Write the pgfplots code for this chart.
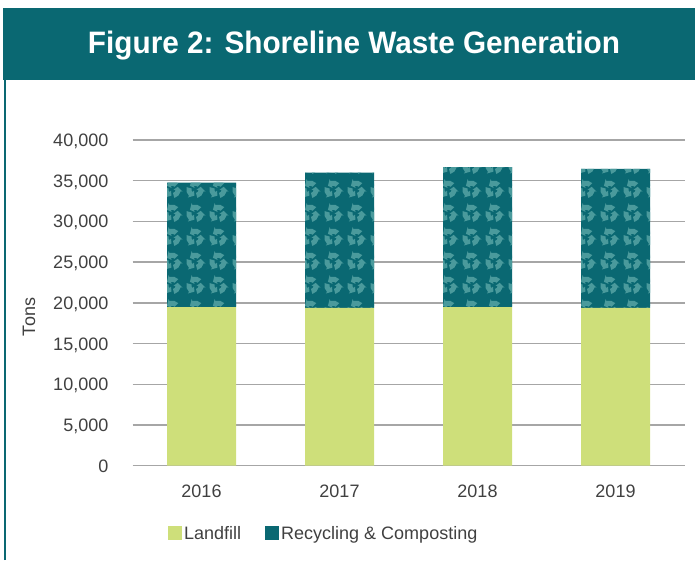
\documentclass[border=0pt]{standalone}
\usepackage{fontspec}
\setmainfont{Liberation Sans}
\usepackage{graphicx}
\usepackage{pgfplots}
\pgfplotsset{compat=1.18}
\usetikzlibrary{patterns}
\definecolor{tealc}{RGB}{10,104,114}
\definecolor{greenc}{RGB}{206,223,122}
\definecolor{patc}{RGB}{74,154,156}
\definecolor{gridc}{RGB}{166,166,166}
\definecolor{textc}{RGB}{64,64,64}
\pgfdeclarepatternformonly{recycle}{\pgfpointorigin}{\pgfqpoint{23pt}{24pt}}{\pgfqpoint{23pt}{24pt}}{%
  \foreach \a in {90,210,330}{%
    \pgfmathsetmacro\sa{\a-45}%
    \pgfmathsetmacro\ea{\a+18}%
    \pgfmathsetmacro\ta{\a+55}%
    \pgfpathmoveto{\pgfpointadd{\pgfqpoint{11.5pt}{12pt}}{\pgfpointpolar{\sa}{9.2pt}}}%
    \pgfpatharc{\sa}{\ea}{9.2pt}%
    \pgfpathlineto{\pgfpointadd{\pgfqpoint{11.5pt}{12pt}}{\pgfpointpolar{\ea}{11.3pt}}}%
    \pgfpathlineto{\pgfpointadd{\pgfqpoint{11.5pt}{12pt}}{\pgfpointpolar{\ta}{6.5pt}}}%
    \pgfpathlineto{\pgfpointadd{\pgfqpoint{11.5pt}{12pt}}{\pgfpointpolar{\ea}{1.7pt}}}%
    \pgfpathlineto{\pgfpointadd{\pgfqpoint{11.5pt}{12pt}}{\pgfpointpolar{\ea}{3.8pt}}}%
    \pgfpatharc{\ea}{\sa}{3.8pt}%
    \pgfpathclose
    \pgfusepath{fill}%
  }%
}
\begin{document}
\begin{tikzpicture}
\path[use as bounding box] (0pt,0pt) rectangle (695pt,560pt);
\fill[tealc] (3pt,480pt) rectangle (695pt,552pt);
\draw[tealc, line width=2pt] (5pt,0pt) -- (5pt,480pt);
\node[text=white, font=\fontsize{31}{34}\selectfont\bfseries, anchor=base, inner sep=0pt] at (354pt,506.7pt) {\resizebox{532pt}{\height}{Figure 2: Shoreline Waste Generation}};
\begin{axis}[
  at={(132.5pt,94.3pt)}, anchor=south west,
  scale only axis, width=552pt, height=325.7pt,
  ybar stacked, bar width=69pt,
  xmin=-0.5, xmax=3.5, ymin=0, ymax=40000,
  xtick={0,1,2,3}, xticklabels={2016,2017,2018,2019},
  ytick={0,5000,10000,15000,20000,25000,30000,35000,40000},
  scaled y ticks=false,
  axis line style={draw=none},
  major tick length=0pt,
  ymajorgrids, grid style={gridc, line width=1.4pt},
  tick label style={font=\fontsize{18}{20}\selectfont, text=textc},
  yticklabel style={anchor=base east, inner sep=0pt, xshift=-24pt, yshift=-6.5pt},
  xticklabel style={anchor=north, inner sep=0pt, yshift=-19.5pt},
  /pgf/number format/1000 sep={,},
  /pgf/number format/assume math mode=true,
  legend image code/.code={\fill[#1] (0pt,-7pt) rectangle (14pt,7pt);},
  legend style={at={(0.0643,-0.208)}, anchor=west, draw=none, fill=none,
    inner sep=0pt, nodes={inner sep=2pt}, font=\fontsize{18}{20}\selectfont, text=textc,
    /tikz/every even column/.append style={column sep=22pt}},
  legend columns=2,
]
\addplot[fill=greenc, draw=none, forget plot] coordinates {(0,19490) (1,19370) (2,19490) (3,19370)};
\addplot[fill=tealc, draw=none, forget plot, postaction={pattern=recycle, pattern color=patc}] coordinates {(0,15270) (1,16610) (2,17190) (3,17070)};
\addlegendimage{fill=greenc, draw=none}
\addlegendentry{Landfill}
\addlegendimage{fill=tealc, draw=none}
\addlegendentry{Recycling \& Composting}
\end{axis}
\node[rotate=90, font=\fontsize{18}{20}\selectfont, text=textc] at (29pt,243pt) {Tons};
\end{tikzpicture}
\end{document}
